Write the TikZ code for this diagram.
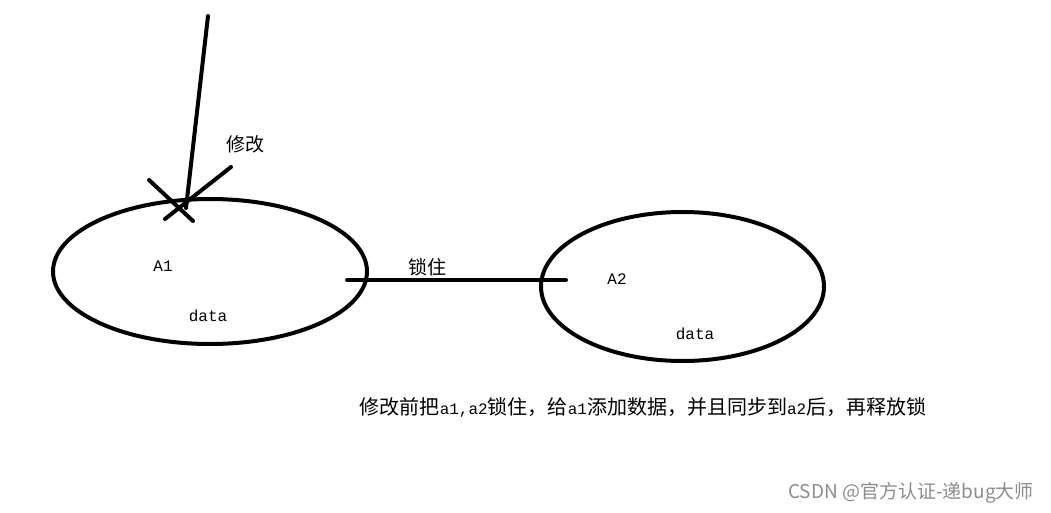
\documentclass[tikz,border=0pt]{standalone}
\usepackage{fontspec}
\usepackage{tikz}
\usetikzlibrary{positioning, shapes.geometric}
\newfontfamily\cjk{Noto Sans CJK SC}
\newfontfamily\latmono{Liberation Mono}
\newcommand{\lm}[1]{{\latmono\fontsize{16}{19}\selectfont #1}}
\tikzset{
  pen/.style={line width=4pt, line cap=round},
  blob/.style={draw, ellipse, line width=4pt, inner sep=0pt},
  zh/.style={font=\cjk\fontsize{19}{22}\selectfont, text=black},
  lat/.style={font=\latmono\fontsize{16}{19}\selectfont, text=black}
}

\begin{document}
\begin{tikzpicture}[x=1pt, y=-1pt]
    \useasboundingbox (0,0) rectangle (1051,513);

    % Draw the two ellipses
    \node[blob, minimum width=314pt, minimum height=145pt] (A1) at (210,271.5) {};
    \node[blob, minimum width=283pt, minimum height=149pt] (A2) at (682.5,286.5) {};

    % Pen stroke and cross
    \coordinate (penTop) at (208,16);
    \coordinate (penTip) at (186,208);
    \draw[pen] (penTop) -- (penTip);
    \foreach \a/\b in {149/180, 231/167} {
      \coordinate (c\a) at (\a,\b);
    }
    \coordinate (d149) at (193,221);
    \coordinate (d231) at (165,219);
    \draw[pen] (c149) -- (d149);
    \draw[pen] (c231) -- (d231);

    % Lock line
    \coordinate (lockL) at (347,280);
    \coordinate (lockR) at (566,280);
    \draw[pen] (lockL) -- (lockR);

    % Labels
    \node[zh] (edit) at (245,144) {修改};
    \node[zh] (lock) at (427,267) {锁住};
    \foreach \n/\x/\y/\t in {a1/163/266/A1, d1/208/316/data, a2/617/279/A2, d2/695/334/data} {
      \node[lat] (\n) at (\x,\y) {\t};
    }

    % Caption and watermark
    \node[zh, font=\cjk\fontsize{20}{23}\selectfont] (note) at (643,407)
      {修改前把\lm{a1,a2}锁住，给\lm{a1}添加数据，并且同步到\lm{a2}后，再释放锁};
    \node[font=\cjk\fontsize{19}{22}\selectfont, text=black!45] (mark) at (911,493) {CSDN @官方认证-递bug大师};
\end{tikzpicture}
\end{document}
